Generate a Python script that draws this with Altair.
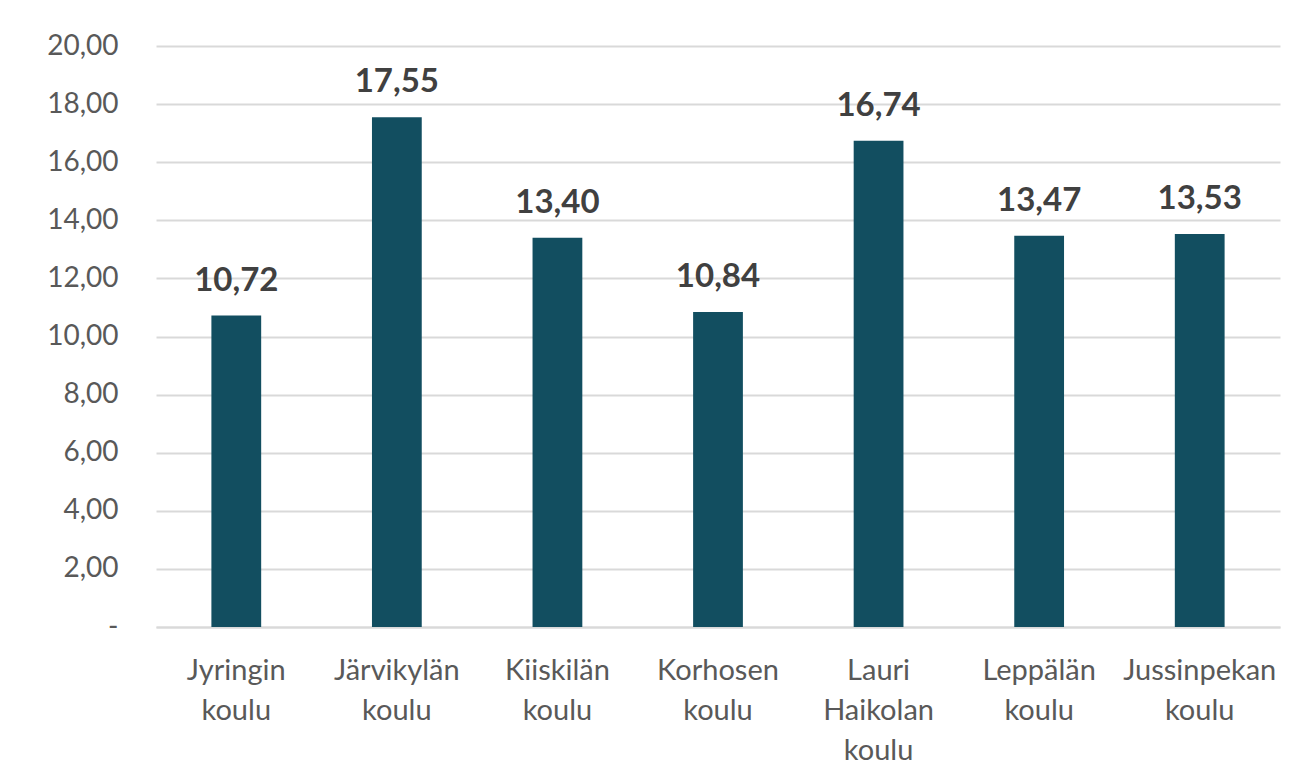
import altair as alt
import pandas as pd

schools = ["Jyringin koulu", "Järvikylän koulu", "Kiiskilän koulu", "Korhosen koulu",
           "Lauri Haikolan koulu", "Leppälän koulu", "Jussinpekan koulu"]
label_lines = [["Jyringin", "koulu"], ["Järvikylän", "koulu"], ["Kiiskilän", "koulu"],
               ["Korhosen", "koulu"], ["Lauri", "Haikolan", "koulu"], ["Leppälän", "koulu"],
               ["Jussinpekan", "koulu"]]
values = [10.72, 17.55, 13.40, 10.84, 16.74, 13.47, 13.53]

df = pd.DataFrame({"school": schools, "value": values})
df["label"] = [f"{v:.2f}".replace(".", ",") for v in values]

font = "Lato"
lines_map = {s: l for s, l in zip(schools, label_lines)}
label_expr = " : ".join(
    [f"datum.label == '{s}' ? {l!r}" for s, l in lines_map.items()]
) + " : datum.label"

x = alt.X("school:N", sort=schools, title=None,
          scale=alt.Scale(paddingInner=0.69, paddingOuter=0.345),
          axis=alt.Axis(labelAngle=0, labelExpr=label_expr, labelFont=font,
                        labelFontSize=29, labelColor="#595959", labelPadding=29,
                        labelLineHeight=40, ticks=False, domain=True, grid=False,
                        domainColor="#d9d9d9", domainWidth=2, labelBaseline="top"))
y = alt.Y("value:Q", title=None,
          scale=alt.Scale(domain=[0, 20]),
          axis=alt.Axis(values=list(range(0, 21, 2)),
                        labelExpr="datum.value == 0 ? '-' : replace(format(datum.value, '.2f'), '.', ',')",
                        labelFont=font, labelFontSize=28, labelColor="#595959",
                        labelPadding=38, ticks=False, domain=False,
                        grid=True, gridColor="#d9d9d9", gridWidth=2))

bars = alt.Chart(df).mark_bar(color="#124E60").encode(x=x, y=y)
text = alt.Chart(df).mark_text(font=font, fontSize=33, fontWeight="bold", color="#404040",
                               baseline="alphabetic", dy=-25).encode(
    x=alt.X("school:N", sort=schools), y="value:Q", text="label:N")

chart = (bars + text).properties(
    width=1124, height=581,
    autosize=alt.AutoSizeParams(type="none"),
    padding={"left": 148, "top": 38, "right": 16, "bottom": 140},
).configure(background="white", view=alt.ViewConfig(strokeWidth=0, stroke="transparent"))

chart.save("out.html", embed_options={"renderer": "svg", "actions": False})
